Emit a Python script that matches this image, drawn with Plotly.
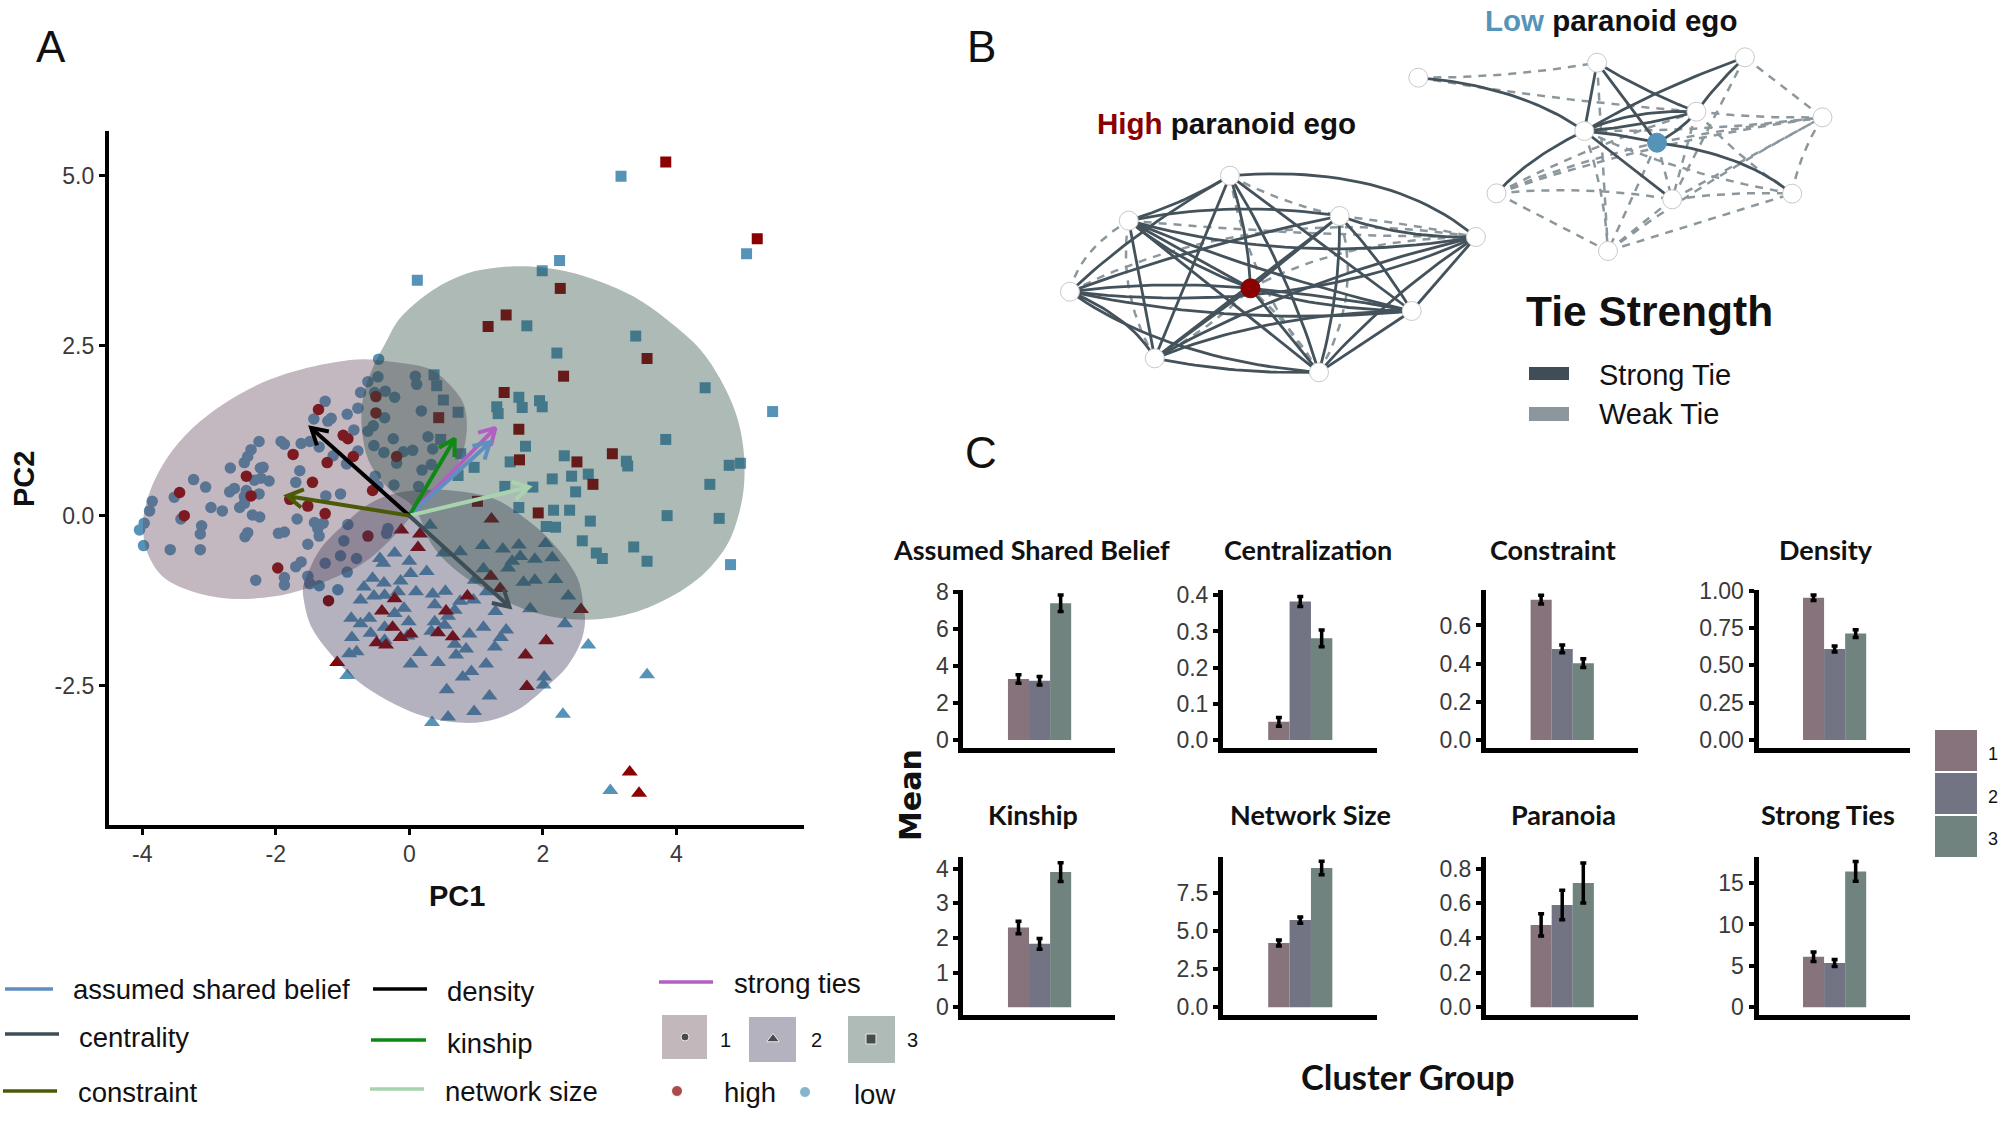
import plotly.graph_objects as go

W, H = 2007, 1124

# ---------- Panel A data (PC1, PC2) ----------
c1_low_x = [-0.46,0.09,0.11,-0.62,-0.47,-0.73,-0.52,-0.36,-0.22,0.18,-0.77,-0.93,-0.37,-1.26,-1.43,-1.17,-1.22,-0.83,-0.62,-0.54,-0.24,0.28,-0.53,-0.38,-0.09,0.05,0.35,-0.77,-1.14,-0.94,-0.19,0.19,0.33,-0.51,-0.23,0.14,-0.47,-2.25,-1.92,-1.87,-1.62,-1.49,-1.35,-2.37,-2.42,-2.47,-2.68,-2.23,-2.19,-1.64,-3.23,-3.05,-2.32,-2.22,-2.10,-1.70,-2.69,-2.62,-2.44,-2.47,-2.25,-3.52,-3.85,-3.89,-2.97,-2.80,-2.54,-2.47,-2.35,-2.24,-3.42,-3.97,-4.04,-3.98,-3.11,-3.13,-2.42,-2.46,-3.58,-3.13,-1.96,-1.87,-1.68,-1.42,-1.29,-1.37,-1.35,-1.52,-1.25,-1.03,-0.92,-0.32,-0.34,-0.98,-1.03,-1.26,-0.79,-0.93,-1.62,-1.70,-2.30,-1.87,-1.87,-1.52,-1.49,-1.35,-1.07]
c1_low_y = [2.30,2.05,1.93,1.97,2.04,1.81,1.81,1.83,1.74,1.54,1.58,1.49,1.44,1.68,1.42,1.43,1.39,1.26,1.24,1.32,1.13,1.16,1.03,0.93,0.94,0.96,0.98,0.95,0.88,0.76,0.77,0.67,0.75,0.58,0.45,0.43,0.44,1.09,1.09,1.05,1.06,1.09,1.01,0.97,0.87,0.78,0.70,0.70,0.71,0.66,0.53,0.42,0.52,0.55,0.51,0.49,0.35,0.40,0.37,0.28,0.32,0.27,0.21,0.07,0.12,0.07,0.12,0.18,0.01,-0.02,-0.05,-0.11,-0.21,-0.44,-0.15,-0.27,-0.25,-0.31,-0.50,-0.50,-0.26,-0.24,-0.05,-0.10,-0.11,-0.19,-0.30,-0.42,0.29,0.32,-0.13,-0.19,-0.26,-0.37,-0.59,-0.70,-0.63,-0.83,-0.68,-0.75,-0.95,-0.91,-1.02,-0.89,-1.00,-1.03,-1.09]
c1_high_x = [-1.36,-0.50,-0.50,-0.99,-0.92,-1.74,-1.23,-0.84,-0.19,-2.44,-1.45,-0.55,-3.44,-2.37,-1.79,-1.52,-1.26,-3.37,-0.62,-1.97,-1.21]
c1_high_y = [1.56,1.51,1.75,1.18,1.13,0.90,0.78,0.87,0.87,0.58,0.49,0.37,0.34,0.29,0.24,0.14,0.03,0.00,-0.30,-0.77,-1.25]

c2_low_x = [0.31,-0.22,0.00,-0.44,-0.39,0.02,0.26,-0.55,-0.38,-0.13,-0.68,0.10,0.35,0.54,-0.53,-0.37,-0.17,-0.73,0.38,0.76,0.96,-0.08,-0.22,-0.87,-0.60,-0.73,-0.01,0.38,0.58,0.68,0.53,0.33,-0.37,-0.58,-0.86,-0.37,-0.03,1.11,1.45,1.37,0.90,1.28,0.68,0.85,0.70,-0.90,-0.79,0.16,0.02,0.43,1.15,0.93,0.80,-0.93,0.56,1.20,2.02,2.01,0.97,0.58,0.34,2.68,2.30,2.33,1.29,0.51,0.76,1.10,1.40,1.64,1.66,2.04,1.88,2.14,1.54,1.48,1.11,0.98,1.71,1.88,2.19,2.38,1.81,1.16,3.56,3.01]
c2_low_y = [-0.14,-0.55,-0.67,-0.63,-0.70,-0.85,-0.82,-0.92,-0.99,-0.96,-1.05,-1.12,-1.15,-1.11,-1.18,-1.17,-1.12,-1.24,-1.31,-1.26,-1.24,-1.36,-1.44,-1.51,-1.51,-1.59,-1.56,-1.56,-1.48,-1.39,-1.61,-1.70,-1.64,-1.73,-1.79,-1.83,-1.77,-1.64,-1.68,-1.79,-1.74,-1.93,-1.89,-1.96,-2.05,-2.03,-2.00,-2.01,-2.18,-2.16,-2.18,-2.29,-2.37,-2.35,-2.56,-2.65,-2.37,-2.49,-2.88,-2.96,-3.04,-1.90,-2.92,-1.59,-1.41,-0.55,-0.53,-0.44,-0.49,-0.43,-0.60,-0.41,-0.64,-0.62,-0.67,-0.77,-0.78,-0.95,-0.98,-0.95,-0.94,-1.18,-1.37,-1.12,-2.34,-4.04]
c2_high_x = [1.23,-0.12,0.16,0.13,1.22,1.36,0.87,-0.22,-0.41,0.55,2.57,-0.25,0.02,-0.13,0.43,0.65,-0.49,-0.35,2.05,1.74,-1.08,1.76,3.30,3.44]
c2_high_y = [-0.05,-0.21,-0.27,-0.47,-0.89,-1.07,-1.18,-1.22,-1.40,-1.40,-1.38,-1.64,-1.74,-1.79,-1.72,-1.78,-1.87,-1.90,-1.84,-2.05,-2.16,-2.51,-3.77,-4.08]

c3_low_x = [0.12,2.25,1.99,5.05,1.76,3.39,2.21,4.43,5.44,0.37,0.41,0.51,0.73,1.31,1.33,1.64,1.69,1.95,1.99,0.47,0.77,3.84,1.74,1.51,0.97,0.73,2.32,3.25,3.27,4.79,4.96,2.14,2.43,2.68,4.50,2.49,1.43,1.85,1.64,2.16,2.40,3.86,4.64,2.71,2.05,2.19,2.59,2.80,2.89,3.36,3.56,4.81,3.17]
c3_low_y = [3.46,3.75,3.60,3.85,2.79,2.64,2.39,1.88,1.53,2.07,1.91,1.70,1.52,1.60,1.50,1.74,1.59,1.69,1.60,1.12,0.91,1.12,1.02,0.79,0.71,0.59,0.88,0.80,0.73,0.74,0.77,0.54,0.58,0.61,0.46,0.35,0.43,0.42,0.12,0.08,0.08,0.00,-0.04,-0.08,-0.16,-0.17,-0.37,-0.55,-0.63,-0.46,-0.67,-0.72,4.99]
c3_high_x = [3.84,5.21,2.26,1.45,1.18,3.56,2.31,1.42,0.44,1.64,1.65,3.04,2.51,2.75,1.02,1.93]
c3_high_y = [5.20,4.07,3.34,2.95,2.78,2.31,2.05,1.81,1.44,1.27,0.82,0.91,0.79,0.46,0.21,0.04]

hull1_x = [-0.69,-0.24,0.30,0.56,0.81,0.86,0.76,0.61,0.31,0.02,-0.29,-0.69,-1.09,-1.54,-2.04,-2.69,-3.24,-3.69,-3.92,-3.99,-3.94,-3.79,-3.54,-3.14,-2.64,-2.09,-1.54,-1.09,-0.69]
hull1_y = [2.30,2.26,2.16,1.97,1.65,1.26,0.82,0.62,0.28,-0.02,-0.36,-0.70,-0.90,-1.07,-1.19,-1.22,-1.12,-0.90,-0.55,-0.16,0.18,0.57,0.97,1.38,1.73,2.00,2.17,2.26,2.30]
hull2_x = [-1.52,-1.34,-0.99,-0.59,-0.19,0.31,0.81,1.31,1.76,2.11,2.51,2.61,2.63,2.56,2.36,2.06,1.61,1.11,0.61,0.16,-0.34,-0.79,-1.19,-1.47,-1.58,-1.59,-1.52]
hull2_y = [-0.85,-0.50,-0.14,0.18,0.33,0.38,0.35,0.23,-0.06,-0.36,-0.90,-1.34,-1.58,-1.88,-2.22,-2.51,-2.86,-3.03,-3.03,-2.93,-2.71,-2.42,-2.02,-1.63,-1.24,-1.04,-0.85]
hull3_x = [1.36,1.86,2.36,2.86,3.36,3.86,4.36,4.66,4.89,5.00,5.01,4.91,4.74,4.31,3.58,2.87,2.16,1.56,1.16,0.76,0.36,0.06,-0.29,-0.59,-0.71,-0.69,-0.54,-0.36,-0.14,0.36,0.86,1.36]
hull3_y = [3.65,3.66,3.59,3.44,3.22,2.88,2.44,2.00,1.50,1.01,0.43,-0.06,-0.46,-0.94,-1.35,-1.52,-1.49,-1.31,-1.09,-0.85,-0.46,0.13,0.38,0.77,1.26,1.75,2.19,2.53,2.90,3.32,3.56,3.65]

arrow_names = ["strong ties","assumed shared belief","kinship","network size","density","constraint","centrality"]
arrow_x = [1.29,1.21,0.68,1.79,-1.47,-1.83,1.50]
arrow_y = [1.29,1.08,1.13,0.42,1.29,0.29,-1.34]
arrow_col = ["#b25fc4","#5f8fbf","#0e8a14","#a9d3ae","#000000","#4a5a06","#3f4d57"]

# ---------- Panel B data ----------
high_nx = [462,295,643,868,198,496,762,338,609]
high_ny = [527,662,648,711,875,865,933,1075,1117]
high_strong = [(0,3,.16),(1,2,.08),(1,3,-.10),(1,6,-.03),(1,8,0),(1,7,0),(1,5,0),(1,5,-.05),(0,1,.04),(0,5,.02),(0,7,0),(0,8,.02),(4,0,.03),(4,2,.03),(2,5,0),(7,2,0),(2,6,.02),(2,3,-.08),(4,3,-.12),(3,6,0),(7,3,.05),(8,3,.03),(4,5,.05),(4,6,-.07),(7,4,-.08),(4,8,-.10),(5,6,-.06),(5,6,.02),(7,5,0),(5,8,0),(7,6,.08),(6,8,0),(7,8,-.05),(0,6,0),(2,8,.02)]
high_weak = [(4,1,.08),(1,7,-.05),(0,2,-.05),(2,3,.02),(1,3,-.02),(4,3,.14),(5,3,.10),(7,5,-.04),(8,5,-.03),(8,2,-.06),(0,8,-.04)]
low_nx = [773,1068,1312,1232,1440,1047,1167,902,1192,1390,1086]
low_ny = [233,188,172,335,352,393,428,580,598,581,753]
low_strong = [(0,5,.10),(1,5,0),(1,6,0),(1,3,-.03),(5,2,.03),(3,2,.02),(5,3,.10),(5,3,-.04),(3,6,.05),(5,6,.03),(7,5,.05),(5,8,0),(6,9,.10)]
low_weak = [(0,1,-.04),(0,3,-.02),(2,4,0),(3,4,-.03),(5,4,-.03),(6,4,.02),(7,4,.04),(9,4,.03),(3,9,-.03),(2,8,0),(5,10,.02),(7,8,.06),(7,10,0),(7,3,.03),(6,8,0),(8,9,.04),(10,8,0),(10,9,0),(6,10,0),(5,9,-.05),(10,4,.02),(7,6,.03),(1,10,0),(3,8,0),(8,4,0)]

# ---------- Panel C data ----------
panel_titles = ["Assumed Shared Belief","Centralization","Constraint","Density","Kinship","Network Size","Paranoia","Strong Ties"]
clusters = [1, 2, 3]
means = [[3.3,3.2,7.4],[0.05,0.383,0.281],[0.735,0.477,0.402],[0.953,0.61,0.713],
         [2.3,1.83,3.9],[4.2,5.7,9.1],[0.475,0.59,0.717],[6.1,5.35,16.4]]
errs = [[0.23,0.23,0.45],[0.012,0.014,0.023],[0.023,0.02,0.023],[0.018,0.02,0.026],
        [0.18,0.155,0.27],[0.2,0.2,0.44],[0.064,0.085,0.115],[0.56,0.42,1.2]]
tickvals = [[0,2,4,6,8],[0,.1,.2,.3,.4],[0,.2,.4,.6],[0,.25,.5,.75,1],
            [0,1,2,3,4],[0,2.5,5,7.5],[0,.2,.4,.6,.8],[0,5,10,15]]
ticktext = [["0","2","4","6","8"],["0.0","0.1","0.2","0.3","0.4"],["0.0","0.2","0.4","0.6"],["0.00","0.25","0.50","0.75","1.00"],
            ["0","1","2","3","4"],["0.0","2.5","5.0","7.5"],["0.0","0.2","0.4","0.6","0.8"],["0","5","10","15"]]
y_scale = [47.9,938,495,387,90,39.7,450,21.5]   # picture units per data unit

BAR_COL = ["#87737b","#727484","#70837e"]
HULL_COL = ["rgba(100,68,90,0.38)","rgba(58,53,84,0.38)","rgba(39,74,63,0.38)"]
LOW, HIGH = "#5594b8", "#8b0000"
INK = "#3a3a3a"

def fx(px): return px / W
def fy(py): return 1 - py / H

fig = go.Figure()
layout = {}

# Panel A axes
layout["xaxis"] = dict(domain=[fx(108.8), fx(804)], range=[-4.50, 5.91], anchor="y", showgrid=False, zeroline=False, automargin=False,
                       showline=True, linecolor="black", linewidth=4, ticks="outside", ticklen=6, tickwidth=3, tickcolor="black",
                       tickvals=[-4,-2,0,2,4], ticktext=["-4","-2","0","2","4"], tickfont=dict(family="Liberation Sans", size=23, color=INK))
layout["yaxis"] = dict(domain=[fy(824.5), fy(130.6)], range=[-4.54, 5.66], anchor="x", showgrid=False, zeroline=False, automargin=False,
                       showline=True, linecolor="black", linewidth=4, ticks="outside", ticklen=6, tickwidth=3, tickcolor="black",
                       tickvals=[-2.5,0,2.5,5], ticktext=["-2.5","0.0","2.5","5.0"], tickfont=dict(family="Liberation Sans", size=23, color=INK))

def pts(x, y, sym, col, size):
    fig.add_trace(go.Scatter(x=x, y=y, mode="markers", xaxis="x", yaxis="y", hoverinfo="skip",
                             marker=dict(symbol=sym, color=col, size=size, line=dict(width=0))))
pts(c1_low_x, c1_low_y, "circle", LOW, 11.5)
pts(c1_high_x, c1_high_y, "circle", HIGH, 11.5)
pts(c2_low_x, c2_low_y, "triangle-up", LOW, 14)
pts(c2_high_x, c2_high_y, "triangle-up", HIGH, 14)
pts(c3_low_x, c3_low_y, "square", LOW, 11)
pts(c3_high_x, c3_high_y, "square", HIGH, 11)

for hx, hy, col in [(hull1_x, hull1_y, HULL_COL[0]), (hull2_x, hull2_y, HULL_COL[1]), (hull3_x, hull3_y, HULL_COL[2])]:
    fig.add_trace(go.Scatter(x=hx, y=hy, mode="lines", fill="toself", fillcolor=col, xaxis="x", yaxis="y",
                             line=dict(width=0, shape="spline", smoothing=1, color=col), hoverinfo="skip"))

def arrow(tx, ty, col):
    L = (tx**2 + ty**2) ** 0.5
    ux, uy = tx / L, ty / L
    b, s = 0.27, 0.5
    bx1 = tx - b * (ux * 0.866 - uy * s); by1 = ty - b * (uy * 0.866 + ux * s)
    bx2 = tx - b * (ux * 0.866 + uy * s); by2 = ty - b * (uy * 0.866 - ux * s)
    fig.add_trace(go.Scatter(x=[0, tx, None, bx1, tx, bx2], y=[0, ty, None, by1, ty, by2], mode="lines",
                             xaxis="x", yaxis="y", line=dict(color=col, width=4), hoverinfo="skip"))
for tx, ty, col in zip(arrow_x, arrow_y, arrow_col):
    arrow(tx, ty, col)

# Panel B
layout["xaxis10"] = dict(domain=[fx(950), fx(1900)], range=[0, 1568], anchor="y10", visible=False, automargin=False)
layout["yaxis10"] = dict(domain=[fy(450), fy(0)], range=[1350, 0], anchor="x10", visible=False, automargin=False)

def edge_xy(nx, ny, edges):
    xs, ys = [], []
    for i, j, b in edges:
        x0, y0, x1, y1 = nx[i], ny[i], nx[j], ny[j]
        dx, dy = x1 - x0, y1 - y0
        cx, cy = (x0 + x1) / 2 + 2 * b * dy, (y0 + y1) / 2 - 2 * b * dx
        for k in range(25):
            t = k / 24
            xs.append((1-t)**2 * x0 + 2*t*(1-t) * cx + t**2 * x1)
            ys.append((1-t)**2 * y0 + 2*t*(1-t) * cy + t**2 * y1)
        xs.append(None); ys.append(None)
    return xs, ys

for nx, ny, strong, weak, ego, egocol in [(high_nx, high_ny, high_strong, high_weak, 5, HIGH),
                                          (low_nx, low_ny, low_strong, low_weak, 6, LOW)]:
    x, y = edge_xy(nx, ny, weak)
    fig.add_trace(go.Scatter(x=x, y=y, mode="lines", xaxis="x10", yaxis="y10", hoverinfo="skip",
                             line=dict(color="#8b979d", width=2.5, dash="8px,7px")))
    x, y = edge_xy(nx, ny, strong)
    fig.add_trace(go.Scatter(x=x, y=y, mode="lines", xaxis="x10", yaxis="y10", hoverinfo="skip",
                             line=dict(color="#44525b", width=2.8)))
    cols = ["white"] * len(nx); cols[ego] = egocol
    lines = ["#c9c9c9"] * len(nx); lines[ego] = egocol
    fig.add_trace(go.Scatter(x=nx, y=ny, mode="markers", xaxis="x10", yaxis="y10", hoverinfo="skip",
                             marker=dict(size=19, color=cols, line=dict(color=lines, width=1))))

# Panel C
col_px = [(963.4, 1115), (1223, 1376.8), (1486, 1637.7), (1758.5, 1910)]
row_px = [(590, 748), (857, 1015)]
for k in range(8):
    n = k + 2
    left, right = col_px[k % 4]
    top, bot = row_px[k // 4]
    s = y_scale[k]
    layout[f"xaxis{n}"] = dict(domain=[fx(left), fx(right)], range=[-1.615, 5.58], anchor=f"y{n}", showgrid=False, zeroline=False, automargin=False,
                               showline=True, linecolor="black", linewidth=5, showticklabels=False, ticks="")
    layout[f"yaxis{n}"] = dict(domain=[fy(bot), fy(top)], range=[-21 / s if k < 4 else -20 / s, (389 if k < 4 else 390) / s], anchor=f"x{n}",
                               showgrid=False, zeroline=False, showline=True, linecolor="black", linewidth=5, automargin=False,
                               ticks="outside", ticklen=5, tickwidth=4, tickcolor="black", tickvals=tickvals[k], ticktext=ticktext[k],
                               tickfont=dict(family="Liberation Sans", size=23, color=INK))
    fig.add_trace(go.Bar(x=clusters, y=means[k], width=1, xaxis=f"x{n}", yaxis=f"y{n}", hoverinfo="skip",
                         marker=dict(color=BAR_COL, line=dict(width=0)),
                         error_y=dict(type="data", array=errs[k], color="black", thickness=3.5, width=3)))

# Legend glyphs, on an overlay axis that spans the page
layout["xaxis11"] = dict(domain=[0, 1], range=[0, W], anchor="y11", visible=False, automargin=False)
layout["yaxis11"] = dict(domain=[0, 1], range=[H, 0], anchor="x11", visible=False, automargin=False)

shapes = []
def rect(x0, y0, x1, y1, col):
    shapes.append(dict(type="rect", xref="paper", yref="paper", x0=fx(x0), x1=fx(x1), y0=fy(y0), y1=fy(y1),
                       fillcolor=col, line=dict(width=0), layer="below"))
def seg(x0, x1, y, col):
    shapes.append(dict(type="line", xref="paper", yref="paper", x0=fx(x0), x1=fx(x1), y0=fy(y), y1=fy(y),
                       line=dict(color=col, width=3.5)))
rect(662, 1015, 707, 1059, "#c2b7bb"); rect(749, 1017, 796, 1062, "#b4b2be"); rect(848, 1016, 895, 1063, "#aebbb7")
rect(1529, 367, 1569, 380, "#3f4d57"); rect(1529, 407, 1569, 421, "#8b979d")
rect(1935, 730, 1977, 771, BAR_COL[0]); rect(1935, 773, 1977, 814, BAR_COL[1]); rect(1935, 816, 1977, 857, BAR_COL[2])
seg(5, 53, 989, "#5f8fbf"); seg(5, 59, 1034, "#3f4d57"); seg(3, 57, 1091, "#4a5a06")
seg(373, 427, 989, "#000000"); seg(371, 426, 1040, "#0e8a14"); seg(370, 424, 1089, "#a9d3ae"); seg(659, 713, 982, "#b25fc4")

fig.add_trace(go.Scatter(x=[685, 773, 871, 677, 805], y=[1037, 1039, 1039, 1091, 1092], mode="markers",
                         xaxis="x11", yaxis="y11", hoverinfo="skip",
                         marker=dict(symbol=["circle", "triangle-up", "square", "circle", "circle"],
                                     size=[8, 11, 10, 11, 11], color=["#1c1c1c", "#1c1c1c", "#1c1c1c", HIGH, LOW])))

notes = []
def txt(px, py, text, size, family="Liberation Sans", anchor="left", color="#111111", angle=0):
    notes.append(dict(xref="paper", yref="paper", x=fx(px), y=fy(py), text=text, showarrow=False, xanchor=anchor, yanchor="middle",
                      textangle=angle, font=dict(family=family, size=size, color=color)))

txt(51, 46, "A", 44, anchor="center"); txt(981, 46, "B", 44, anchor="center"); txt(981, 452.5, "C", 44, anchor="center")
txt(456.6, 896, "<b>PC1</b>", 29, anchor="center"); txt(24, 479, "<b>PC2</b>", 29, anchor="center", angle=-90)
txt(1226.5, 124, f'<b><span style="color:{HIGH}">High</span> paranoid ego</b>', 29.5, anchor="center")
txt(1611, 20, f'<b><span style="color:{LOW}">Low</span> paranoid ego</b>', 29.5, anchor="center")
txt(1649, 311.5, "<b>Tie Strength</b>", 42.5, anchor="center")
txt(1597, 374.5, "Strong Tie", 29); txt(1597, 414.5, "Weak Tie", 29)
for name, px, py in [("assumed shared belief", 71, 989), ("centrality", 77, 1037.5), ("constraint", 76, 1092),
                     ("density", 445, 991.5), ("kinship", 445, 1043), ("network size", 443, 1091), ("strong ties", 732, 983.5),
                     ("high", 722, 1092), ("low", 852, 1094)]:
    txt(px, py, name, 27.5)
for label, px in [("1", 725), ("2", 816), ("3", 912)]:
    txt(px, 1040, label, 20, anchor="center")
for label, py in [("1", 754), ("2", 797), ("3", 839)]:
    txt(1993, py, label, 18, anchor="center")
title_pos = [(1031, 549), (1307.7, 549), (1553, 549), (1826, 549), (1033, 814), (1310, 814), (1563, 814), (1827.5, 814)]
for t, (px, py) in zip(panel_titles, title_pos):
    txt(px, py, f"<b>{t}</b>", 27, family="Lato", anchor="center")
txt(910, 795, "<b>Mean</b>", 30, family="DejaVu Sans", anchor="center", angle=-90)
txt(1408, 1076.5, "<b>Cluster Group</b>", 34.5, family="Lato", anchor="center")

fig.update_layout(width=W, height=H, margin=dict(l=0, r=0, t=0, b=0), paper_bgcolor="white", plot_bgcolor="rgba(0,0,0,0)",
                  showlegend=False, barmode="overlay", shapes=shapes, annotations=notes, **layout)
fig.write_html("out.html", config=dict(displayModeBar=False),
               post_script="document.body.style.margin='0';document.documentElement.style.overflow='hidden';")
